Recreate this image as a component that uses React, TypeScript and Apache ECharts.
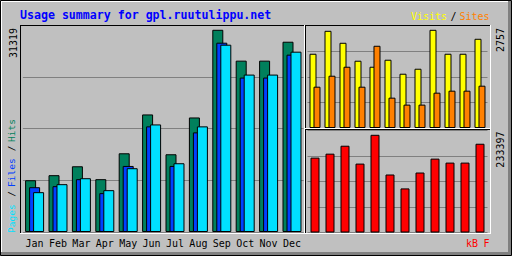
import React, { useEffect, useRef } from "react";
import * as echarts from "echarts";

const months = ["Jan", "Feb", "Mar", "Apr", "May", "Jun", "Jul", "Aug", "Sep", "Oct", "Nov", "Dec"];
const hits = [8020, 8800, 10180, 8180, 12190, 18210, 12040, 17740, 31319, 26540, 26540, 29470];
const files = [6940, 7100, 8180, 6020, 10230, 16360, 10230, 15430, 29320, 23920, 23920, 27470];
const pages = [6170, 7410, 8330, 6480, 9880, 16660, 10650, 16360, 29010, 24380, 24380, 27930];
const visits = [2085, 2729, 2393, 1889, 1720, 1917, 1524, 1664, 2757, 2085, 2085, 2505];
const sites = [1160, 1468, 1720, 1160, 2309, 852, 656, 656, 992, 1048, 1048, 1188];
const kbytes = [178843, 188329, 207305, 164609, 233397, 138519, 105312, 143263, 176471, 166983, 166983, 212050];

const TITLE = "Usage summary for gpl.ruutulippu.net";
const MONO = '"DejaVu Sans Mono", monospace';

export default function App() {
  const ref = useRef<HTMLDivElement>(null);
  useEffect(() => {
    if (!ref.current) return;
    const chart = echarts.init(ref.current, null, { renderer: "svg" });
    const maxHits = Math.max(...hits);
    const maxVisits = Math.max(...visits, ...sites);
    const maxKb = Math.max(...kbytes);
    const mMain = maxHits * 1.0237;
    const mTop = maxVisits * 1.044;
    const mBot = maxKb * 1.044;

    const line = (x1: number, y1: number, x2: number, y2: number, color: string) => ({
      type: "line",
      shape: { x1, y1, x2, y2 },
      style: { stroke: color, lineWidth: 1 },
      z: 10,
      silent: true,
    });
    const txt = (x: number, y: number, text: string, fill: string, opts: any = {}) => ({
      type: "text",
      x,
      y,
      rotation: opts.rotation || 0,
      z: 10,
      style: {
        text,
        fill,
        font: opts.font || `10px ${MONO}`,
        align: opts.align || "left",
        verticalAlign: opts.verticalAlign || "middle",
      },
    });
    const up = Math.PI / 2;

    const yAxisBase = (gridIndex: number, max: number) => ({
      type: "value",
      gridIndex,
      min: 0,
      max,
      interval: max / 4,
      axisLabel: { show: false },
      axisLine: { show: false },
      axisTick: { show: false },
      splitLine: { show: true, lineStyle: { color: "#808080", width: 1 } },
    });
    const xAxisBase = (gridIndex: number, showLabel: boolean) => ({
      type: "category",
      gridIndex,
      data: months,
      axisLine: { show: false },
      axisTick: { show: false },
      splitLine: { show: false },
      axisLabel: showLabel
        ? {
            show: true,
            color: "#000",
            fontFamily: "DejaVu Sans Mono",
            fontSize: 10,
            margin: 11,
            verticalAlign: "middle",
            interval: 0,
          }
        : { show: false },
    });
    const border = { borderColor: "#000", borderWidth: 1 };

    chart.setOption({
      animation: false,
      backgroundColor: "#c0c0c0",
      grid: [
        { left: 22.9, top: 25, width: 280.8, height: 207, outerBoundsMode: "none" },
        { left: 307.5, top: 25.5, width: 180, height: 102.5, outerBoundsMode: "none" },
        { left: 307.5, top: 130.5, width: 180, height: 102, outerBoundsMode: "none" },
      ],
      xAxis: [xAxisBase(0, true), xAxisBase(1, false), xAxisBase(2, false)],
      yAxis: [yAxisBase(0, mMain), yAxisBase(1, mTop), yAxisBase(2, mBot)],
      series: [
        { type: "bar", name: "Hits", xAxisIndex: 0, yAxisIndex: 0, data: hits, barWidth: 11, barGap: "-63.64%", itemStyle: { color: "#00805c", ...border } },
        { type: "bar", name: "Files", xAxisIndex: 0, yAxisIndex: 0, data: files, barWidth: 11, barGap: "-63.64%", itemStyle: { color: "#0040ff", ...border } },
        { type: "bar", name: "Pages", xAxisIndex: 0, yAxisIndex: 0, data: pages, barWidth: 11, barGap: "-63.64%", itemStyle: { color: "#00e0ff", ...border } },
        { type: "bar", name: "Visits", xAxisIndex: 1, yAxisIndex: 1, data: visits, barWidth: 7, barGap: "-42.86%", itemStyle: { color: "#ffff00", ...border } },
        { type: "bar", name: "Sites", xAxisIndex: 1, yAxisIndex: 1, data: sites, barWidth: 7, barGap: "-42.86%", itemStyle: { color: "#ff8000", ...border } },
        { type: "bar", name: "kB F", xAxisIndex: 2, yAxisIndex: 2, data: kbytes, barWidth: 9, itemStyle: { color: "#ff0000", ...border } },
      ],
      graphic: [
        // outer bevel
        { type: "rect", shape: { x: 508, y: 1, width: 3, height: 254 }, style: { fill: "#808080" }, z: 9, silent: true },
        { type: "rect", shape: { x: 1, y: 252, width: 510, height: 3 }, style: { fill: "#808080" }, z: 9, silent: true },
        line(1, 1.5, 508, 1.5, "#ffffff"),
        line(1.5, 1, 1.5, 252, "#ffffff"),
        { type: "rect", shape: { x: 0.5, y: 0.5, width: 511, height: 255 }, style: { fill: "none", stroke: "#000", lineWidth: 1 }, z: 10, silent: true },
        // main panel
        line(20, 25.5, 304, 25.5, "#000"),
        line(20.5, 25, 20.5, 233, "#000"),
        line(304.5, 25, 304.5, 234, "#ffffff"),
        line(20, 233.5, 305, 233.5, "#ffffff"),
        // top-right panel
        line(305, 25.5, 490, 25.5, "#000"),
        line(305.5, 25, 305.5, 128, "#000"),
        line(490.5, 25, 490.5, 129, "#ffffff"),
        line(305, 128.5, 491, 128.5, "#ffffff"),
        // bottom-right panel
        line(305, 129.5, 490, 129.5, "#000"),
        line(305.5, 129, 305.5, 233, "#000"),
        line(490.5, 129, 490.5, 234, "#ffffff"),
        line(305, 233.5, 491, 233.5, "#ffffff"),
        // title
        txt(20, 15, TITLE, "#0000ff", { font: `bold 11.6px ${MONO}` }),
        // Visits / Sites
        txt(447, 16.5, "Visits", "#ffff00", { align: "right" }),
        txt(453.5, 16.5, "/", "#000000", { align: "center" }),
        txt(489.5, 16.5, "Sites", "#ff8000", { align: "right" }),
        // kB F
        txt(478, 243.3, "kB", "#ff0000", { align: "right" }),
        txt(489.5, 243.3, "F", "#ff0000", { align: "right" }),
        // max labels
        txt(13, 28, String(maxHits), "#000", { rotation: up, align: "right" }),
        txt(500, 28, String(Math.max(...visits)), "#000", { rotation: up, align: "right" }),
        txt(500, 131.5, String(maxKb), "#000", { rotation: up, align: "right" }),
        // Pages / Files / Hits
        txt(11.7, 233, "Pages", "#00e0ff", { rotation: up, align: "left", font: `9.5px ${MONO}` }),
        txt(11.7, 194, "/", "#000", { rotation: up, align: "center", font: `9.5px ${MONO}` }),
        txt(11.7, 187, "Files", "#0040ff", { rotation: up, align: "left", font: `9.5px ${MONO}` }),
        txt(11.7, 148.5, "/", "#000", { rotation: up, align: "center", font: `9.5px ${MONO}` }),
        txt(11.7, 142, "Hits", "#00805c", { rotation: up, align: "left", font: `9.5px ${MONO}` }),
      ],
    });
    return () => chart.dispose();
  }, []);
  return <div ref={ref} style={{ width: 512, height: 256, position: "absolute", left: 0, top: 0 }} />;
}
